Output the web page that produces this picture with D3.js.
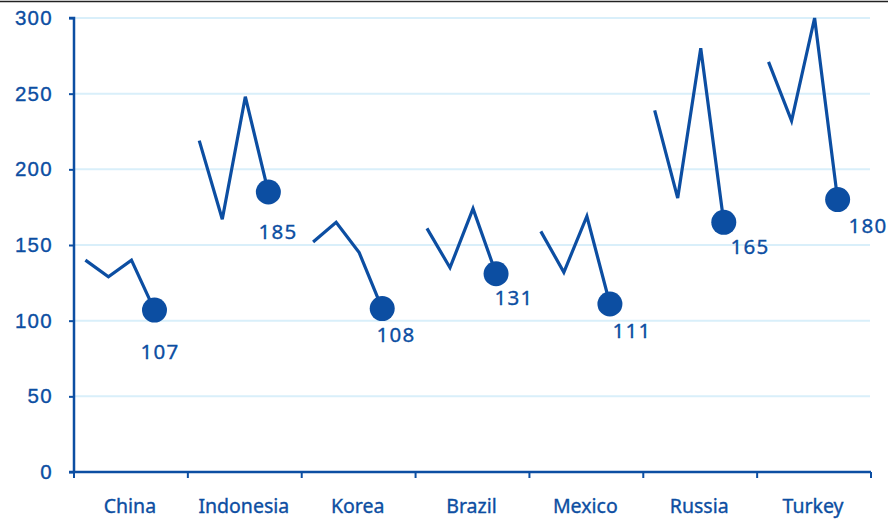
<!DOCTYPE html>
<html>
<head>
<meta charset="utf-8">
<script src="https://cdn.jsdelivr.net/npm/d3@7"></script>
<style>
  body { margin: 0; background: #fff; }
  svg { display: block; font-family: 'Noto Sans', sans-serif; }
</style>
</head>
<body>
<div id="chart"></div>
<script>
const categories = ['China', 'Indonesia', 'Korea', 'Brazil', 'Mexico', 'Russia', 'Turkey'];
// three earlier readings per country, then the latest one (the dot)
const point1 = [140, 219, 152, 161, 159, 239, 271];
const point2 = [129, 167, 165, 135, 132, 181, 232];
const point3 = [140, 248, 145, 174, 169, 280, 300];
const latest = [107, 185, 108, 131, 111, 165, 180];
const yTicks = [0, 50, 100, 150, 200, 250, 300];

const blue = '#0c4ea2';
const width = 890, height = 519;
const margin = { top: 18, right: 19, bottom: 47, left: 74 };
const w = width - margin.left - margin.right,
  h = height - margin.top - margin.bottom;

const svg = d3.select('#chart').append('svg')
  .attr('width', width).attr('height', height);

// cropped frame line at the very top
svg.append('line')
  .attr('x1', 0).attr('x2', 888).attr('y1', 1.5).attr('y2', 1.5)
  .attr('stroke', '#222').attr('stroke-width', 1.5);

const g = svg.append('g')
  .attr('transform', `translate(${margin.left},${margin.top})`);

const x = d3.scaleBand().domain(categories).range([0, w]);
const y = d3.scaleLinear().domain([0, 300]).range([h, 0]);
const step = d3.scaleLinear().domain([0, 3])
  .range([x.bandwidth() * 0.1, x.bandwidth() * 0.707]);
const labelX = d3.scalePoint().domain(categories).range([86, 794]);

// gridlines
g.append('g').selectAll('line')
  .data(yTicks.filter(d => d > 0))
  .enter().append('line')
  .attr('x1', 0).attr('x2', w - 1)
  .attr('y1', d => y(d)).attr('y2', d => y(d))
  .attr('stroke', '#d9effa').attr('stroke-width', 2);

// y axis
const yAxis = g.append('g')
  .call(d3.axisLeft(y).tickValues(yTicks).tickSize(5).tickPadding(16));
yAxis.select('.domain').attr('stroke', blue).attr('stroke-width', 2.5)
  .attr('d', `M0,${h}V0H-5`);
yAxis.selectAll('.tick line').attr('stroke', blue).attr('stroke-width', 2);
yAxis.selectAll('text').attr('fill', blue).attr('font-size', 20.5)
  .attr('letter-spacing', 1.3)
  .attr('stroke', blue).attr('stroke-width', 0.35);

// x axis with ticks at band edges
const xAxis = g.append('g').attr('transform', `translate(0,${h})`);
xAxis.append('line').attr('x1', -5).attr('x2', w)
  .attr('stroke', blue).attr('stroke-width', 2.5);
xAxis.selectAll('.edge')
  .data(d3.range(categories.length + 1))
  .enter().append('line')
  .attr('x1', i => i * x.step()).attr('x2', i => i * x.step())
  .attr('y1', 0).attr('y2', 6)
  .attr('stroke', blue).attr('stroke-width', 2);
xAxis.selectAll('.cat')
  .data(categories)
  .enter().append('text')
  .attr('x', d => x(d) + x.bandwidth() / 2 - 1)
  .attr('y', 41)
  .attr('text-anchor', 'middle')
  .attr('fill', blue).attr('font-size', 19.5)
  .attr('stroke', blue).attr('stroke-width', 0.35)
  .text(d => d);

const rows = categories.map((c, i) => ({
  name: c,
  values: [point1[i], point2[i], point3[i], latest[i]]
}));

const line = d3.line()
  .x((d, i) => step(i))
  .y(d => y(d));

const groups = g.selectAll('.country')
  .data(rows)
  .enter().append('g')
  .attr('transform', d => `translate(${x(d.name)},0)`);

groups.append('path')
  .attr('d', d => line(d.values))
  .attr('fill', 'none')
  .attr('stroke', blue).attr('stroke-width', 3.2)
  .attr('stroke-linejoin', 'miter');

groups.append('circle')
  .attr('cx', step(3))
  .attr('cy', d => y(d.values[3]))
  .attr('r', 12.5)
  .attr('fill', blue);

// value labels for the latest reading
const labelDrop = [49, 47, 33, 31, 34, 32, 33];
g.selectAll('.val')
  .data(rows)
  .enter().append('text')
  .attr('x', d => labelX(d.name))
  .attr('y', (d, i) => y(d.values[3]) + labelDrop[i])
  .attr('text-anchor', 'middle')
  .attr('fill', blue).attr('font-size', 20.5)
  .attr('letter-spacing', 1.3)
  .attr('stroke', blue).attr('stroke-width', 0.35)
  .text(d => d.values[3]);
</script>
</body>
</html>
